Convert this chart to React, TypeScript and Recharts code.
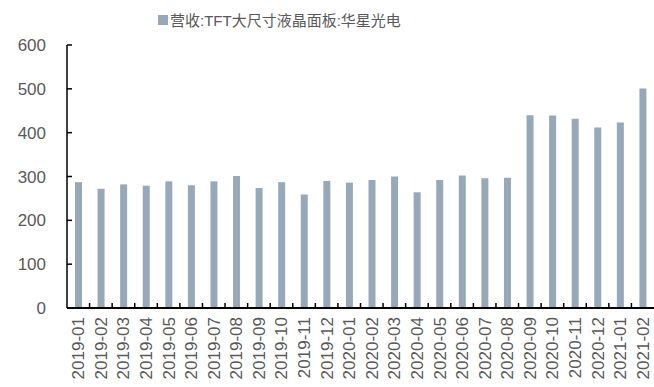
import { BarChart, Bar, XAxis, YAxis, Legend } from 'recharts'

const months = [
  '2019-01', '2019-02', '2019-03', '2019-04', '2019-05', '2019-06', '2019-07',
  '2019-08', '2019-09', '2019-10', '2019-11', '2019-12', '2020-01', '2020-02',
  '2020-03', '2020-04', '2020-05', '2020-06', '2020-07', '2020-08', '2020-09',
  '2020-10', '2020-11', '2020-12', '2021-01', '2021-02',
]

const revenue = [
  287, 272, 282, 279, 289, 280, 289, 301, 274, 287, 259, 290, 286, 292,
  300, 264, 292, 302, 296, 297, 440, 439, 432, 412, 423, 501,
]

const yTicks = [0, 100, 200, 300, 400, 500, 600]

const seriesName = '营收:TFT大尺寸液晶面板:华星光电'
const barColor = '#97A8B9'
const textColor = '#595959'
const fontFamily = '"Liberation Sans", Arial, "Noto Sans CJK SC", sans-serif'

const data = months.map((m, i) => ({ month: m, value: revenue[i] }))

function MonthTick(props: any) {
  const { x, y, payload, index } = props
  const off = payload?.offset ?? 11.3
  return (
    <g>
      {index > 0 && (
        <line x1={x - off} y1={y} x2={x - off} y2={y - 5} stroke="#000" strokeWidth={1.5} />
      )}
      <text
        transform={`translate(${x},${y + 9}) rotate(-90)`}
        dy={6}
        textAnchor="end"
        fontSize={17}
        fill={textColor}
        fontFamily={fontFamily}
      >
        {payload.value}
      </text>
    </g>
  )
}

function TopLegend() {
  return (
    <div
      style={{
        display: 'flex',
        alignItems: 'center',
        fontSize: 15,
        color: textColor,
        fontFamily,
        marginLeft: 158,
      }}
    >
      <span style={{ width: 10, height: 10, background: barColor, marginRight: 2 }} />
      <span>{seriesName}</span>
    </div>
  )
}

export default function App() {
  return (
    <div style={{ position: 'absolute', left: 0, top: 0, width: 654, height: 387, background: '#fff' }}>
      <BarChart
        width={654}
        height={387}
        data={data}
        margin={{ top: 25, right: 0, bottom: 0, left: 0 }}
        barCategoryGap={0}
      >
        <Legend
          verticalAlign="top"
          align="left"
          content={() => <TopLegend />}
          wrapperStyle={{ top: 9, left: 0, width: 654, height: 20 }}
        />
        <YAxis
          domain={[0, 600]}
          ticks={yTicks}
          width={67}
          axisLine={{ stroke: '#000', strokeWidth: 1.5 }}
          tickLine={{ stroke: '#000', strokeWidth: 1.5 }}
          tickSize={-5}
          tickMargin={26}
          tick={{ fontSize: 17, fill: textColor, fontFamily }}
          interval={0}
        />
        <XAxis
          dataKey="month"
          height={79}
          interval={0}
          axisLine={{ stroke: '#000', strokeWidth: 2 }}
          tickLine={false}
          tickSize={0}
          tickMargin={0}
          tick={<MonthTick />}
        />
        <Bar dataKey="value" name={seriesName} fill={barColor} barSize={7} isAnimationActive={false} />
      </BarChart>
    </div>
  )
}
